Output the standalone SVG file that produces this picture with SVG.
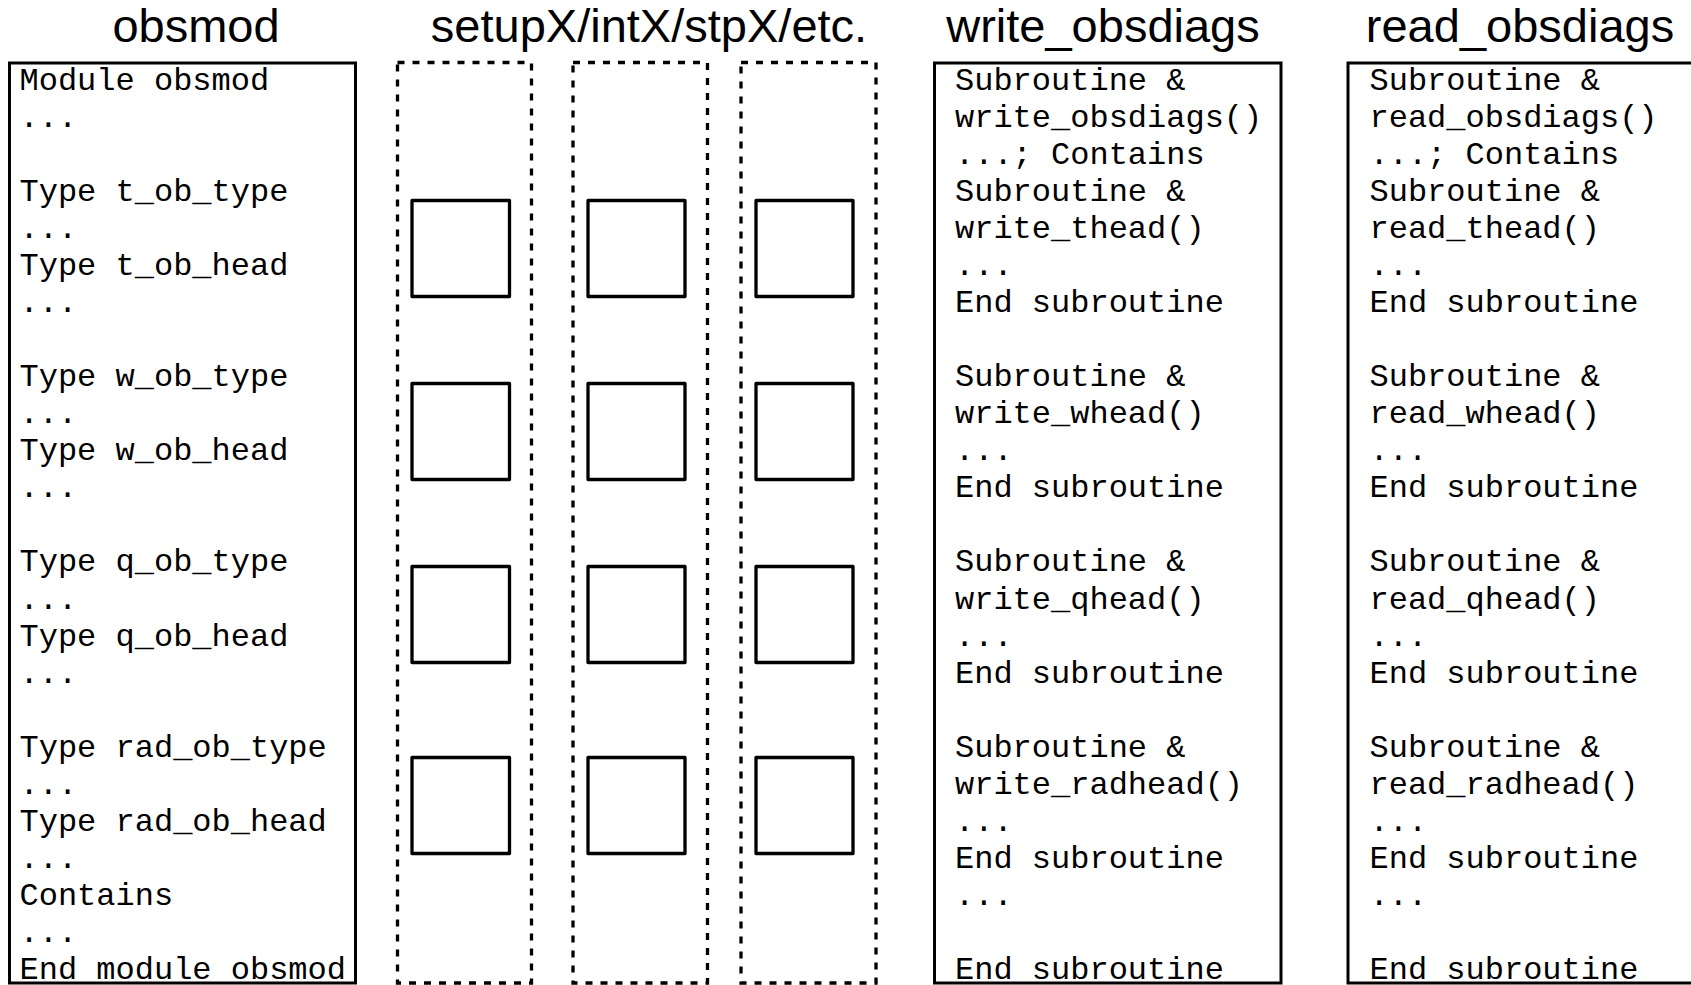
<svg xmlns="http://www.w3.org/2000/svg" width="1691" height="985" viewBox="0 0 1691 985">
<style>
.title{font-family:"Liberation Sans",Arial,sans-serif;font-size:47px;fill:#000;text-anchor:middle}
.code{font-family:"Liberation Mono","Courier New",monospace;font-size:32px;fill:#000;white-space:pre}
.box{fill:#fff;stroke:#000;stroke-width:3}
.dash{fill:none;stroke:#000;stroke-width:3.3;stroke-dasharray:7 8}
.sq{fill:#fff;stroke:#000;stroke-width:3.3;stroke-linejoin:round}
</style>
<rect width="1691" height="985" fill="#fff"/>
<g id="titles">
<text class="title" x="196" y="42">obsmod</text>
<text class="title" x="649" y="42">setupX/intX/stpX/etc.</text>
<text class="title" x="1103" y="42">write_obsdiags</text>
<text class="title" x="1520" y="42">read_obsdiags</text>
</g>
<g id="obsmod" transform="translate(0,1.5)">
<rect class="box" x="9.5" y="61.5" width="346" height="920"/>
<text class="code" x="19.5">
<tspan x="19.5" y="88">Module obsmod</tspan>
<tspan x="19.5" y="125.1">...</tspan>
<tspan x="19.5" y="199.2">Type t_ob_type</tspan>
<tspan x="19.5" y="236.3">...</tspan>
<tspan x="19.5" y="273.4">Type t_ob_head</tspan>
<tspan x="19.5" y="310.4">...</tspan>
<tspan x="19.5" y="384.6">Type w_ob_type</tspan>
<tspan x="19.5" y="421.6">...</tspan>
<tspan x="19.5" y="458.7">Type w_ob_head</tspan>
<tspan x="19.5" y="495.8">...</tspan>
<tspan x="19.5" y="569.9">Type q_ob_type</tspan>
<tspan x="19.5" y="607">...</tspan>
<tspan x="19.5" y="644.1">Type q_ob_head</tspan>
<tspan x="19.5" y="681.1">...</tspan>
<tspan x="19.5" y="755.3">Type rad_ob_type</tspan>
<tspan x="19.5" y="792.3">...</tspan>
<tspan x="19.5" y="829.4">Type rad_ob_head</tspan>
<tspan x="19.5" y="866.5">...</tspan>
<tspan x="19.5" y="903.5">Contains</tspan>
<tspan x="19.5" y="940.6">...</tspan>
<tspan x="19.5" y="977.7">End module obsmod</tspan>
</text>
</g>
<g id="setup-col1">
<rect class="dash" x="397.5" y="62.5" width="134" height="920.5"/>
<rect class="sq" x="412" y="200.5" width="97.5" height="96"/>
<rect class="sq" x="412" y="383.5" width="97.5" height="96"/>
<rect class="sq" x="412" y="566.5" width="97.5" height="96"/>
<rect class="sq" x="412" y="757.5" width="97.5" height="96"/>
</g>
<g id="setup-col2">
<rect class="dash" x="573" y="62.5" width="134.5" height="920.5"/>
<rect class="sq" x="588" y="200.5" width="97" height="96"/>
<rect class="sq" x="588" y="383.5" width="97" height="96"/>
<rect class="sq" x="588" y="566.5" width="97" height="96"/>
<rect class="sq" x="588" y="757.5" width="97" height="96"/>
</g>
<g id="setup-col3">
<rect class="dash" x="741" y="62.5" width="135" height="920.5"/>
<rect class="sq" x="756" y="200.5" width="97" height="96"/>
<rect class="sq" x="756" y="383.5" width="97" height="96"/>
<rect class="sq" x="756" y="566.5" width="97" height="96"/>
<rect class="sq" x="756" y="757.5" width="97" height="96"/>
</g>
<g id="write_obsdiags" transform="translate(0,1.5)">
<rect class="box" x="934.5" y="61.5" width="346.5" height="920"/>
<text class="code">
<tspan x="955" y="88">Subroutine &amp;</tspan>
<tspan x="955" y="125.1">write_obsdiags()</tspan>
<tspan x="955" y="162.1">...; Contains</tspan>
<tspan x="955" y="199.2">Subroutine &amp;</tspan>
<tspan x="955" y="236.3">write_thead()</tspan>
<tspan x="955" y="273.4">...</tspan>
<tspan x="955" y="310.4">End subroutine</tspan>
<tspan x="955" y="384.6">Subroutine &amp;</tspan>
<tspan x="955" y="421.6">write_whead()</tspan>
<tspan x="955" y="458.7">...</tspan>
<tspan x="955" y="495.8">End subroutine</tspan>
<tspan x="955" y="569.9">Subroutine &amp;</tspan>
<tspan x="955" y="607">write_qhead()</tspan>
<tspan x="955" y="644.1">...</tspan>
<tspan x="955" y="681.1">End subroutine</tspan>
<tspan x="955" y="755.3">Subroutine &amp;</tspan>
<tspan x="955" y="792.3">write_radhead()</tspan>
<tspan x="955" y="829.4">...</tspan>
<tspan x="955" y="866.5">End subroutine</tspan>
<tspan x="955" y="903.5">...</tspan>
<tspan x="955" y="977.7">End subroutine</tspan>
</text>
</g>
<g id="read_obsdiags" transform="translate(0,1.5)">
<rect class="box" x="1348" y="61.5" width="360" height="920"/>
<text class="code">
<tspan x="1369.5" y="88">Subroutine &amp;</tspan>
<tspan x="1369.5" y="125.1">read_obsdiags()</tspan>
<tspan x="1369.5" y="162.1">...; Contains</tspan>
<tspan x="1369.5" y="199.2">Subroutine &amp;</tspan>
<tspan x="1369.5" y="236.3">read_thead()</tspan>
<tspan x="1369.5" y="273.4">...</tspan>
<tspan x="1369.5" y="310.4">End subroutine</tspan>
<tspan x="1369.5" y="384.6">Subroutine &amp;</tspan>
<tspan x="1369.5" y="421.6">read_whead()</tspan>
<tspan x="1369.5" y="458.7">...</tspan>
<tspan x="1369.5" y="495.8">End subroutine</tspan>
<tspan x="1369.5" y="569.9">Subroutine &amp;</tspan>
<tspan x="1369.5" y="607">read_qhead()</tspan>
<tspan x="1369.5" y="644.1">...</tspan>
<tspan x="1369.5" y="681.1">End subroutine</tspan>
<tspan x="1369.5" y="755.3">Subroutine &amp;</tspan>
<tspan x="1369.5" y="792.3">read_radhead()</tspan>
<tspan x="1369.5" y="829.4">...</tspan>
<tspan x="1369.5" y="866.5">End subroutine</tspan>
<tspan x="1369.5" y="903.5">...</tspan>
<tspan x="1369.5" y="977.7">End subroutine</tspan>
</text>
</g>
<g id="connectors"/>
</svg>
